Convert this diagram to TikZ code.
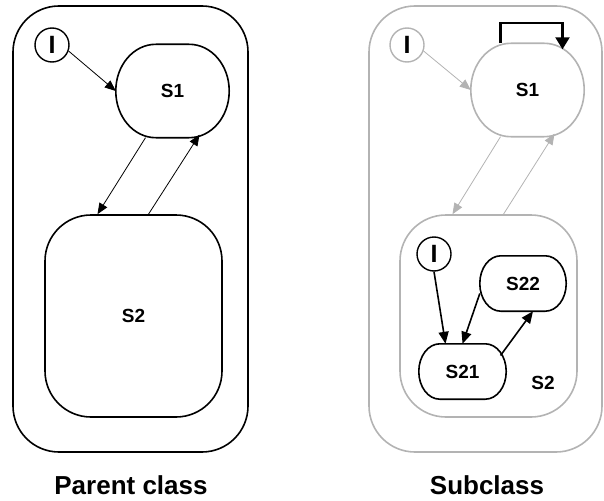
\documentclass[tikz,border=0pt]{standalone}
\usepackage{fontspec}
\setmainfont{Liberation Sans}
\usetikzlibrary{arrows.meta}
\definecolor{lg}{HTML}{B3B3B3}
% #1 node name, #2 x radius, #3 y radius, #4 draw options
\newcommand\ovalborder[4]{%
  \draw[#4] ([xshift=#2]#1.north west) -- ([xshift=-#2]#1.north east)
    arc[start angle=90, end angle=0, x radius=#2, y radius=#3]
    -- ([yshift=#3]#1.south east)
    arc[start angle=0, end angle=-90, x radius=#2, y radius=#3]
    -- ([xshift=#2]#1.south west)
    arc[start angle=-90, end angle=-180, x radius=#2, y radius=#3]
    -- ([yshift=-#3]#1.north west)
    arc[start angle=180, end angle=90, x radius=#2, y radius=#3] -- cycle;}
\begin{document}
\begin{tikzpicture}[x=1pt,y=-1pt,
  outerbox/.style={draw, rectangle, line width=1.6pt, rounded corners=46pt, inner sep=0pt},
  st/.style={rectangle, inner sep=0pt, font=\bfseries\fontsize{19}{20}\selectfont},
  stline/.style={line width=1.6pt},
  init/.style={draw, circle, line width=1.4pt, minimum size=34pt, inner sep=0pt,
     font=\bfseries\fontsize{25}{25}\selectfont},
  tr/.style={-{Triangle[length=11pt,width=9pt]}, line width=0.8pt},
  trk/.style={-{Triangle[length=12pt,width=10pt]}, line width=1.6pt},
  gr/.style={color=lg},
  lbl/.style={font=\bfseries\fontsize{19}{20}\selectfont, inner sep=0pt},
  captext/.style={font=\bfseries\fontsize{26}{28}\selectfont, inner sep=0pt}
]
\useasboundingbox (0,0) rectangle (604,500);

% ---------- Parent class ----------
\node[outerbox, minimum width=235pt, minimum height=446pt] (P) at (130.5,229) {};
\node[init] (I1) at (52,45) {I};
\node[st, minimum width=113pt, minimum height=93pt] (S1) at (172.5,91) {S1};
\ovalborder{S1}{40pt}{46.5pt}{stline}
\node[st, draw, line width=1.6pt, rounded corners=46pt, minimum width=177pt, minimum height=202pt] (S2) at (133.5,316) {S2};
\draw[tr] (I1.-20) -- (S1.west);
\draw[tr] ([xshift=-27pt]S1.south) -- ([xshift=-36pt]S2.north);
\draw[tr] ([xshift=15pt]S2.north) -- ([xshift=27pt,yshift=3pt]S1.south);
\node[captext] (capP) at (131,485) {Parent class};

% ---------- Subclass ----------
\node[outerbox, gr, minimum width=233pt, minimum height=446pt] (Q) at (485.5,229) {};
\node[init, gr, text=black] (I2) at (407,45) {I};
\node[st, minimum width=113pt, minimum height=93pt] (S1r) at (527.5,90) {S1};
\ovalborder{S1r}{40pt}{46.5pt}{stline, lg}
\node[draw, gr, line width=1.6pt, rounded corners=46pt, minimum width=177pt, minimum height=202pt] (S2r) at (488.5,316) {};
\node[lbl] (S2lbl) at (543,383) {S2};
\draw[tr, gr] (I2.-20) -- (S1r.west);
\draw[tr, gr] ([xshift=-27pt]S1r.south) -- ([xshift=-36pt]S2r.north);
\draw[tr, gr] ([xshift=15pt]S2r.north) -- ([xshift=27pt,yshift=3pt]S1r.south);
\draw[line width=2.2pt, -{Triangle[length=12pt,width=14pt]}]
  ([xshift=-27pt]S1r.north) -- ++(0,-20) -| ([xshift=35pt,yshift=-6pt]S1r.north);

\node[init] (I3) at (434,254) {I};
\node[st, minimum width=86pt, minimum height=55pt] (S22) at (523,283.5) {S22};
\ovalborder{S22}{21pt}{27.5pt}{stline}
\node[st, minimum width=87pt, minimum height=55pt] (S21) at (462.5,371.5) {S21};
\ovalborder{S21}{21pt}{27.5pt}{stline}
\draw[trk] (I3.south) -- ([xshift=-17pt]S21.north);
\draw[trk] ([yshift=-10pt]S22.west) -- (S21.north);
\draw[trk] ([shift={(38pt,16pt)}]S21.center) -- ([xshift=10pt]S22.south);
\node[captext] (capS) at (487,485) {Subclass};
\end{tikzpicture}
\end{document}
